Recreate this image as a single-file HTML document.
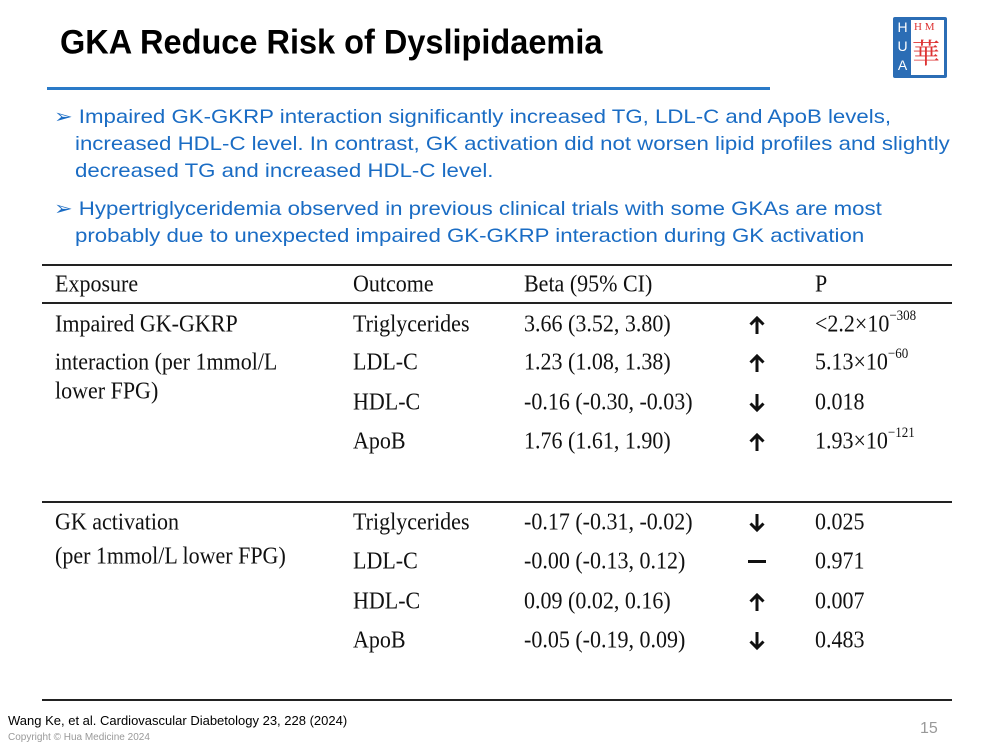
<!DOCTYPE html>
<html><head><meta charset="utf-8"><style>
body{margin:0;width:1000px;height:750px;background:#fff;position:relative;overflow:hidden;font-family:"Liberation Sans",sans-serif}
.a{position:absolute;white-space:nowrap}
.t{font-family:"Liberation Serif",serif;font-size:22px;color:#111;line-height:24px;transform:scaleY(1.12);transform-origin:0 0}
.b{color:#1a6cc4;font-size:19.5px;line-height:27px;left:54px;transform:scaleX(1.14);transform-origin:0 0}
.ln{position:absolute;left:42px;width:910px;background:#222}
sup{font-size:13px;line-height:0;position:relative;top:-2px}
</style></head><body>
<div class="a" style="left:60px;top:23px;font-size:32.5px;font-weight:bold;color:#000;transform:scaleY(1.05);transform-origin:0 0">GKA Reduce Risk of Dyslipidaemia</div>
<div class="a" style="left:47px;top:87px;width:723px;height:3px;background:#2a7ac8"></div>
<!-- logo -->
<div class="a" style="left:893px;top:17px;width:54px;height:61px;background:#2b6db5;border-radius:2px"></div>
<div class="a" style="left:911px;top:20px;width:33px;height:55px;background:#fff"></div>
<div class="a" style="left:895px;top:18px;width:15px;font-size:14px;color:#fff;line-height:19px;text-align:center;white-space:normal">H<br>U<br>A</div>
<div class="a" style="left:914px;top:21px;font-family:'Liberation Serif',serif;font-size:11px;color:#d33">H M</div>
<div class="a" style="left:912px;top:36px;font-family:'Noto Serif CJK SC',serif;font-size:28px;color:#d33;line-height:32px">華</div>

<div class="a b" style="top:104px">➢ Impaired GK-GKRP interaction significantly increased TG, LDL-C and ApoB levels,</div>
<div class="a b" style="top:131px;left:75px">increased HDL-C level. In contrast, GK activation did not worsen lipid profiles and slightly</div>
<div class="a b" style="top:158px;left:75px">decreased TG and increased HDL-C level.</div>
<div class="a b" style="top:196px">➢ Hypertriglyceridemia observed in previous clinical trials with some GKAs are most</div>
<div class="a b" style="top:223px;left:75px">probably due to unexpected impaired GK-GKRP interaction during GK activation</div>

<div class="ln" style="top:264px;height:2px"></div>
<div class="ln" style="top:302px;height:2px"></div>
<div class="ln" style="top:501px;height:2px"></div>
<div class="ln" style="top:699px;height:2px"></div>

<div class="a t" style="left:55px;top:270px">Exposure</div>
<div class="a t" style="left:353px;top:270px">Outcome</div>
<div class="a t" style="left:524px;top:270px">Beta (95% CI)</div>
<div class="a t" style="left:815px;top:270px">P</div>

<div class="a t" style="left:55px;top:310px">Impaired GK-GKRP</div>
<div class="a t" style="left:55px;top:348px">interaction (per 1mmol/L</div>
<div class="a t" style="left:55px;top:377px">lower FPG)</div>
<div class="a t" style="left:353px;top:310px">Triglycerides</div>
<div class="a t" style="left:353px;top:348px">LDL-C</div>
<div class="a t" style="left:353px;top:388px">HDL-C</div>
<div class="a t" style="left:353px;top:427px">ApoB</div>
<div class="a t" style="left:524px;top:310px">3.66 (3.52, 3.80)</div>
<div class="a t" style="left:524px;top:348px">1.23 (1.08, 1.38)</div>
<div class="a t" style="left:524px;top:388px">-0.16 (-0.30, -0.03)</div>
<div class="a t" style="left:524px;top:427px">1.76 (1.61, 1.90)</div>
<div class="a t" style="left:815px;top:310px">&lt;2.2×10<sup>−308</sup></div>
<div class="a t" style="left:815px;top:348px">5.13×10<sup>−60</sup></div>
<div class="a t" style="left:815px;top:388px">0.018</div>
<div class="a t" style="left:815px;top:427px">1.93×10<sup>−121</sup></div>

<div class="a t" style="left:55px;top:508px">GK activation</div>
<div class="a t" style="left:55px;top:542px">(per 1mmol/L lower FPG)</div>
<div class="a t" style="left:353px;top:508px">Triglycerides</div>
<div class="a t" style="left:353px;top:547px">LDL-C</div>
<div class="a t" style="left:353px;top:587px">HDL-C</div>
<div class="a t" style="left:353px;top:626px">ApoB</div>
<div class="a t" style="left:524px;top:508px">-0.17 (-0.31, -0.02)</div>
<div class="a t" style="left:524px;top:547px">-0.00 (-0.13, 0.12)</div>
<div class="a t" style="left:524px;top:587px">0.09 (0.02, 0.16)</div>
<div class="a t" style="left:524px;top:626px">-0.05 (-0.19, 0.09)</div>
<div class="a t" style="left:815px;top:508px">0.025</div>
<div class="a t" style="left:815px;top:547px">0.971</div>
<div class="a t" style="left:815px;top:587px">0.007</div>
<div class="a t" style="left:815px;top:626px">0.483</div>

<svg class="a" style="left:0;top:0" width="1000" height="750">
<defs>
<g id="up" stroke="#111" stroke-width="3" fill="none"><path d="M8 18V2M1.5 8.5L8 2l6.5 6.5"/></g>
<g id="dn" stroke="#111" stroke-width="3" fill="none"><path d="M8 0V16M1.5 9.5L8 16l6.5-6.5"/></g>
</defs>
<use href="#up" x="749" y="316"/>
<use href="#up" x="749" y="354"/>
<use href="#dn" x="749" y="394"/>
<use href="#up" x="749" y="433"/>
<use href="#dn" x="749" y="514"/>
<rect x="748" y="560" width="18" height="3" fill="#111"/>
<use href="#up" x="749" y="593"/>
<use href="#dn" x="749" y="632"/>
</svg>

<div class="a" style="left:8px;top:713px;font-size:13px;color:#000">Wang Ke, et al. Cardiovascular Diabetology 23, 228 (2024)</div>
<div class="a" style="left:8px;top:732px;font-size:10px;color:#999">Copyright © Hua Medicine 2024</div>
<div class="a" style="left:920px;top:720px;font-size:16px;color:#999">15</div>
</body></html>
